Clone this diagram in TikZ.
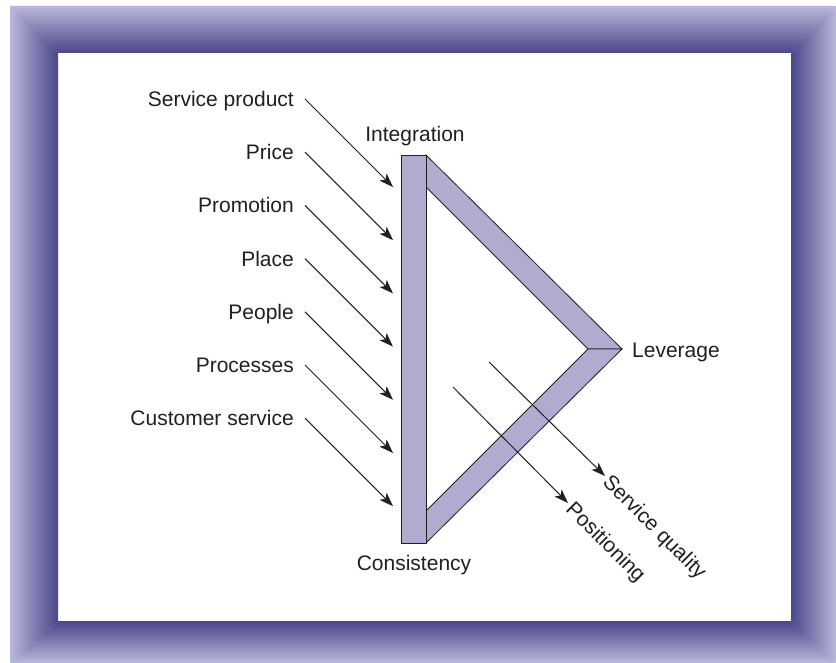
\documentclass[tikz,border=0pt]{standalone}
\usepackage{fontspec}
\setmainfont{Liberation Sans}
\usetikzlibrary{arrows.meta,calc}
\definecolor{framelight}{RGB}{186,184,218}
\definecolor{framedark}{RGB}{74,70,138}
\definecolor{barfill}{RGB}{176,172,208}
\definecolor{ink}{RGB}{35,31,32}
\begin{document}
\begin{tikzpicture}[x=1pt,y=-1pt,
  lbl/.style={font=\fontsize{21}{25}\selectfont, text=ink, inner sep=0pt, text height=15pt, text depth=0pt},
  arr/.style={draw=ink, line width=1pt, -{Stealth[length=14pt,width=10pt,inset=3.5pt]}},
  barstyle/.style={fill=barfill, draw=ink, line width=0.8pt, line join=miter}]
\useasboundingbox (0,0) rectangle (836,663);
\fill[white] (0,0) rectangle (836,663);
% frame
\shade[top color=framelight,bottom color=framedark] (10,6) -- (836,6) -- (791,53) -- (58,53) -- cycle;
\shade[left color=framelight,right color=framedark] (10,6) -- (58,53) -- (58,621) -- (10,663) -- cycle;
\shade[left color=framedark,right color=framelight] (836,6) -- (836,663) -- (791,621) -- (791,53) -- cycle;
\shade[top color=framedark,bottom color=framelight] (58,621) -- (791,621) -- (836,663) -- (10,663) -- cycle;
% triangle structure
\draw[barstyle] (426,155) -- (622,349) -- (588,349) -- (426,187) -- cycle;
\draw[barstyle] (426,543) -- (622,349) -- (588,349) -- (426,511) -- cycle;
\draw[barstyle] (401,155) rectangle (426,543);
% corner labels
\node[lbl] (integ) at (415,134) {Integration};
\node[lbl] (cons) at (414,563) {Consistency};
\node[lbl, anchor=west] (lev) at (632,350) {Leverage};
% left labels and arrows
\foreach \i/\name/\txt in {0/sp/Service product,1/pr/Price,2/pm/Promotion,3/pl/Place,4/pe/People,5/pc/Processes,6/cs/Customer service}{
  \node[lbl, anchor=east] (\name) at (294,99+53.2*\i) {\txt};
  \coordinate (\name-end) at (393,187+53.2*\i);
  \draw[arr] ([xshift=11pt]\name.east) -- (\name-end);
}
% right arrows
\coordinate (pos-s) at (453,387);
\coordinate (pos-e) at (568,503);
\coordinate (sq-s) at (489,362);
\coordinate (sq-e) at (605,476);
\draw[arr] (pos-s) -- (pos-e);
\draw[arr] (sq-s) -- (sq-e);
\node[lbl, anchor=west, rotate=-45] (posl) at ($(pos-e)+(2,2)$) {Positioning};
\node[lbl, anchor=west, rotate=-45] (sql) at ($(sq-e)+(2,2)$) {Service quality};
\end{tikzpicture}
\end{document}
